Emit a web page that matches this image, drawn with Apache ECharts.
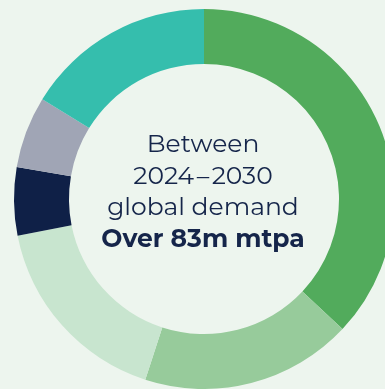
<!DOCTYPE html>
<html>
<head>
<meta charset="utf-8">
<script src="https://cdn.jsdelivr.net/npm/echarts@6/dist/echarts.min.js"></script>
<style>
  html, body { margin: 0; padding: 0; background: #edf5ee; }
  #chart { width: 385px; height: 389px; }
</style>
</head>
<body>
<div id="chart"></div>
<script>
// Share of global demand by segment (percent), clockwise from 12 o'clock
const segments = ['Segment A', 'Segment B', 'Segment C', 'Segment D', 'Segment E', 'Segment F'];
const shares = [37.0, 18.0, 16.9, 5.8, 6.1, 16.2];
const segmentColors = ['#52ab5c', '#97cb9b', '#c8e5cf', '#0f2047', '#a0a5b5', '#35bead'];

// Centre caption
const captionLines = ['Between', '2024\u200a–\u200a2030', 'global demand'];
const captionHighlight = 'Over 83m mtpa';

const chart = echarts.init(document.getElementById('chart'), null, { renderer: 'canvas' });

const textColor = '#15254a';
const fontFamily = '"Montserrat", "Lato", "Noto Sans", sans-serif';

chart.setOption({
  backgroundColor: '#edf5ee',
  animation: false,
  series: [{
    type: 'pie',
    center: [204, 199],
    radius: [135, 190],
    startAngle: 90,
    clockwise: true,
    label: { show: false },
    labelLine: { show: false },
    emphasis: { disabled: true },
    data: segments.map((name, i) => ({
      name,
      value: shares[i],
      itemStyle: { color: segmentColors[i] }
    }))
  }],
  graphic: [
    ...captionLines.map((line, i) => ({
      type: 'text',
      x: 203,
      y: 145 + i * 31.5,
      style: {
        text: line,
        fill: textColor,
        font: '400 25px ' + fontFamily,
        align: 'center',
        verticalAlign: 'middle'
      }
    })),
    {
      type: 'text',
      x: 203,
      y: 145 + 3 * 31.5,
      style: {
        text: captionHighlight,
        fill: textColor,
        font: 'bold 25px ' + fontFamily,
        align: 'center',
        verticalAlign: 'middle'
      }
    }
  ]
});
</script>
</body>
</html>
